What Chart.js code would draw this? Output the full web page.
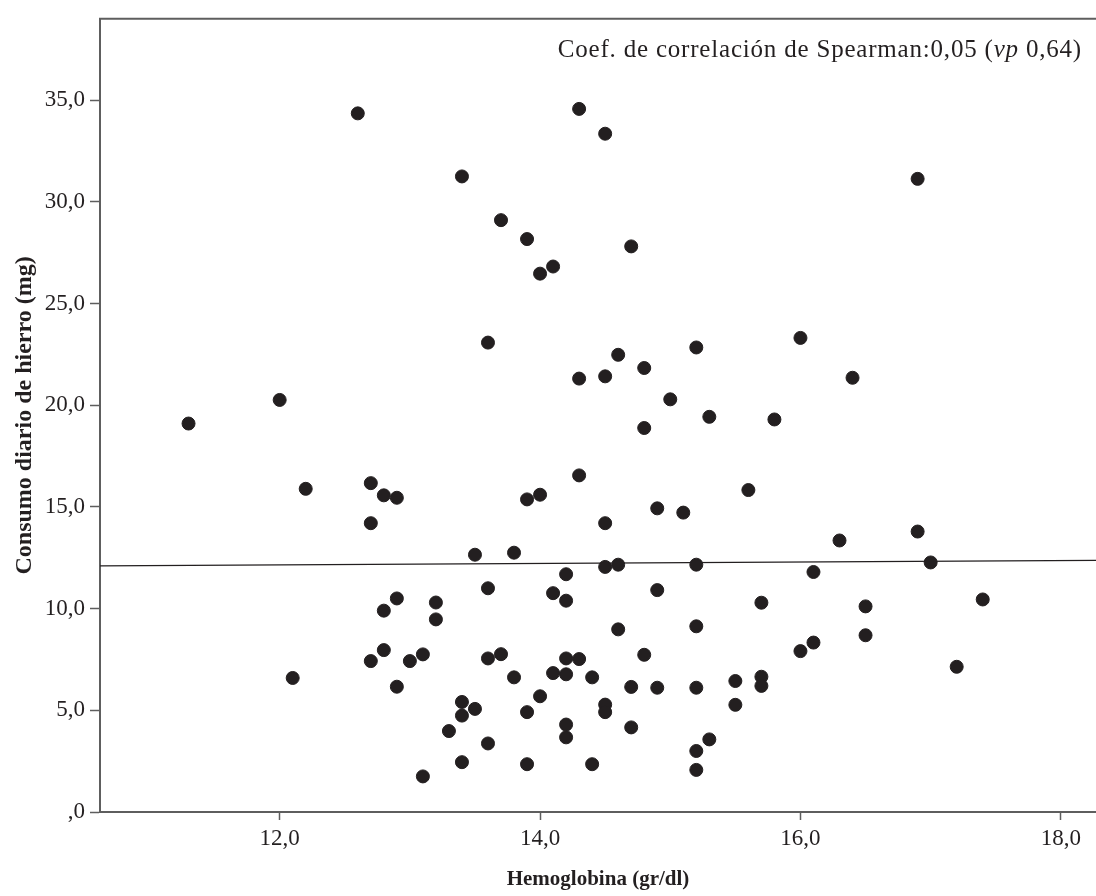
<!DOCTYPE html>
<html>
<head>
<meta charset="utf-8">
<script src="https://cdn.jsdelivr.net/npm/chart.js@4.4.1/dist/chart.umd.min.js"></script>
<style>
  body { margin: 0; background: #fff; }
  canvas { display: block; }
</style>
</head>
<body>
<canvas id="myChart" width="1096" height="896"></canvas>
<script>
// hemoglobina (gr/dl) vs consumo diario de hierro (mg)
const hemoglobina = [
  12.6, 12.0, 11.3, 12.2, 12.7, 12.8, 12.9, 12.7, 12.9, 12.8,
  13.2, 13.2, 12.8, 12.7, 13.0, 13.1, 12.1, 12.9, 13.1, 14.3,
  14.5, 13.4, 13.7, 13.9, 14.7, 14.1, 14.0, 13.6, 15.2, 14.6,
  14.8, 14.3, 14.5, 15.0, 15.3, 14.8, 15.8, 16.9, 16.0, 16.4,
  14.3, 13.9, 14.0, 15.6, 14.9, 15.1, 14.5, 13.5, 13.8, 14.5,
  14.6, 15.2, 14.2, 13.6, 14.1, 14.2, 14.9, 15.7, 14.6, 15.2,
  13.6, 13.7, 14.2, 14.3, 14.8, 13.8, 14.1, 14.2, 14.4, 14.7,
  14.9, 15.2, 15.5, 15.7, 15.7, 13.4, 13.5, 13.4, 14.0, 13.9,
  14.5, 14.5, 15.5, 13.3, 14.2, 14.2, 14.7, 13.6, 15.3, 15.2,
  13.4, 13.9, 14.4, 15.2, 16.9, 16.3, 17.0, 16.1, 16.5, 17.4,
  16.5, 16.1, 16.0, 17.2
];
const hierro = [
  34.35, 20.26, 19.10, 15.89, 16.17, 15.57, 15.45, 14.20, 10.50, 9.90,
  10.30, 9.47, 7.96, 7.42, 7.42, 7.75, 6.59, 6.16, 1.75, 34.57,
  33.35, 31.25, 29.10, 28.17, 27.81, 26.82, 26.47, 23.08, 22.84, 22.48,
  21.83, 21.31, 21.42, 20.29, 19.43, 18.88, 19.30, 31.13, 23.31, 21.35,
  16.55, 15.37, 15.60, 15.83, 14.93, 14.72, 14.20, 12.65, 12.75, 12.05,
  12.16, 12.16, 11.69, 11.00, 10.76, 10.39, 10.91, 10.29, 8.98, 9.13,
  7.55, 7.76, 7.55, 7.52, 7.73, 6.62, 6.83, 6.77, 6.62, 6.15,
  6.11, 6.11, 6.44, 6.65, 6.20, 5.41, 5.07, 4.74, 5.69, 4.91,
  5.28, 4.91, 5.27, 3.98, 4.30, 3.67, 4.16, 3.37, 3.57, 3.00,
  2.45, 2.35, 2.35, 2.07, 13.79, 13.35, 12.27, 11.80, 10.11, 10.45,
  8.69, 8.33, 7.91, 7.14
];

const xTicks = [12, 14, 16, 18];
const yTicks = [0, 5, 10, 15, 20, 25, 30, 35];
const xMin = 10.62, xMax = 18.27;
const yMin = 0, yMax = 39;

// recta de ajuste
const regIntercept = 11.725;
const regSlope = 0.0353;

const nota = ['Coef. de correlación de Spearman:0,05 (', 'vp', ' 0,64)'];

const puntos = hemoglobina.map((h, i) => ({ x: h, y: hierro[i] }));
const recta = [xMin, xMax].map(v => ({ x: v, y: regIntercept + regSlope * v }));

function coma(v) {
  let s = v.toFixed(1).replace('.', ',');
  if (s.startsWith('0,')) s = s.slice(1);
  return s;
}

const serif = "'Liberation Serif', 'DejaVu Serif', serif";
const ejeColor = '#5e5e5e';
const tinta = '#231f20';

const marco = {
  id: 'marco',
  afterDraw(chart) {
    const { ctx, chartArea } = chart;
    ctx.save();
    ctx.strokeStyle = ejeColor;
    ctx.lineWidth = 2;
    ctx.beginPath();
    ctx.moveTo(chartArea.left - 1, chartArea.top);
    ctx.lineTo(chartArea.right, chartArea.top);
    ctx.stroke();

    // nota de correlacion
    ctx.fillStyle = tinta;
    ctx.textBaseline = 'alphabetic';
    ctx.letterSpacing = '0.8px';
    const normal = '25px ' + serif;
    const cursiva = 'italic 25px ' + serif;
    ctx.font = normal;
    const w0 = ctx.measureText(nota[0]).width;
    const w2 = ctx.measureText(nota[2]).width;
    ctx.font = cursiva;
    const w1 = ctx.measureText(nota[1]).width;
    let x = chartArea.right - 14 - (w0 + w1 + w2);
    const y = chartArea.top + 38;
    ctx.font = normal;
    ctx.fillText(nota[0], x, y);
    x += w0;
    ctx.font = cursiva;
    ctx.fillText(nota[1], x, y);
    x += w1;
    ctx.font = normal;
    ctx.fillText(nota[2], x, y);
    ctx.restore();
  }
};

new Chart(document.getElementById('myChart'), {
  type: 'scatter',
  data: {
    datasets: [
      {
        data: puntos,
        backgroundColor: tinta,
        borderColor: tinta,
        borderWidth: 1,
        pointRadius: 6.5,
        pointHoverRadius: 6.5
      },
      {
        type: 'line',
        data: recta,
        borderColor: tinta,
        borderWidth: 1.2,
        pointRadius: 0,
        fill: false
      }
    ]
  },
  options: {
    responsive: false,
    animation: false,
    devicePixelRatio: 1,
    layout: { autoPadding: false, padding: { top: 14, right: 0, left: 0, bottom: 0 } },
    plugins: {
      legend: { display: false },
      tooltip: { enabled: false }
    },
    scales: {
      x: {
        type: 'linear',
        min: xMin,
        max: xMax,
        afterBuildTicks: s => { s.ticks = xTicks.map(v => ({ value: v })); },
        afterFit: s => { s.height = 84; },
        grid: { drawOnChartArea: false, tickLength: 8, tickColor: ejeColor, tickWidth: 1.5 },
        border: { color: ejeColor, width: 2 },
        ticks: {
          color: tinta,
          padding: 5,
          font: { family: serif, size: 23 },
          callback: v => coma(v)
        },
        title: {
          display: true,
          text: 'Hemoglobina (gr/dl)',
          color: tinta,
          padding: { top: 0, bottom: 4 },
          font: { family: serif, size: 21, weight: 'bold' }
        }
      },
      y: {
        type: 'linear',
        min: yMin,
        max: yMax,
        afterBuildTicks: s => { s.ticks = yTicks.map(v => ({ value: v })); },
        afterFit: s => { s.width = 100; },
        grid: { drawOnChartArea: false, tickLength: 10, tickColor: ejeColor, tickWidth: 1.5 },
        border: { color: ejeColor, width: 2 },
        ticks: {
          color: tinta,
          padding: 5,
          font: { family: serif, size: 23 },
          callback: v => coma(v)
        },
        title: {
          display: true,
          text: 'Consumo diario de hierro (mg)',
          color: tinta,
          padding: { top: 10, bottom: 0 },
          font: { family: serif, size: 24, weight: 'bold' }
        }
      }
    }
  },
  plugins: [marco]
});
</script>
</body>
</html>
